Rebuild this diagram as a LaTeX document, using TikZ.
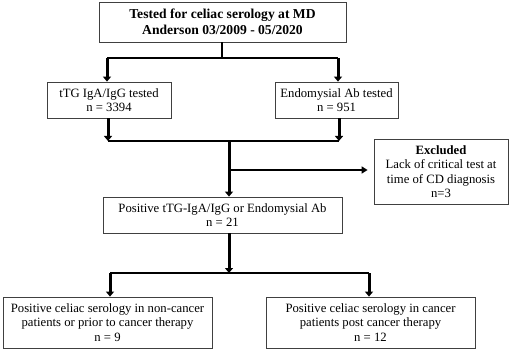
\documentclass[tikz,border=0pt]{standalone}
\usepackage{fontspec}
\setmainfont{Liberation Serif}
\usetikzlibrary{arrows.meta}
\begin{document}
\begin{tikzpicture}[x=1pt,y=-1pt,
  box/.style={draw=black!75, line width=0.8pt, align=center, inner sep=0pt,
    font=\fontsize{12.7}{14.5}\selectfont},
  thin/.style={line width=1.6pt},
  thick/.style={line width=3pt},
  tip/.style={-{Triangle[width=8pt,length=5pt]}},
]
\useasboundingbox (0,0) rectangle (513,352);
\node[box, minimum width=247pt, minimum height=40pt, font=\bfseries\fontsize{13.6}{16}\selectfont] (top) at (222.5,22)
  {Tested for celiac serology at MD\\Anderson 03/2009 - 05/2020};
\node[box, minimum width=124pt, minimum height=36pt] (ttg) at (109,100)
  {tTG IgA/IgG tested\\n = 3394};
\node[box, minimum width=123pt, minimum height=36pt] (endo) at (336.5,100)
  {Endomysial Ab tested\\n = 951};
\node[box, minimum width=134pt, minimum height=65pt] (excl) at (441,171.5)
  {\textbf{Excluded}\\Lack of critical test at\\time of CD diagnosis\\n=3};
\node[box, minimum width=239pt, minimum height=36pt] (pos) at (222.5,215)
  {Positive tTG-IgA/IgG or Endomysial Ab\\n = 21};
\node[box, minimum width=209pt, minimum height=51pt] (bl) at (107.5,322.5)
  {Positive celiac serology in non-cancer\\patients or prior to cancer therapy\\n = 9};
\node[box, minimum width=209pt, minimum height=51pt] (br) at (370.5,322.5)
  {Positive celiac serology in cancer\\patients post cancer therapy\\n = 12};
% split 1
\coordinate (s1) at (222,58);
\coordinate (s1l) at (107,58);
\coordinate (s1r) at (338,58);
\draw[thin] (top.south -| s1) -- (s1);
\draw[thin] (s1l) -- (s1r);
\draw[thick, tip] (s1l) -- (ttg.north -| s1l);
\draw[thick, tip] (s1r) -- (endo.north -| s1r);
% merge
\coordinate (m1l) at (108,141);
\coordinate (m1r) at (339,141);
\coordinate (m1) at (229,141);
\coordinate (ex) at (229,170);
\draw[thick, tip] (ttg.south -| m1l) -- (m1l);
\draw[thick, tip] (endo.south -| m1r) -- (m1r);
\draw[thin] (m1l) -- (m1r);
\draw[thick, tip] (m1) -- (pos.north -| m1);
\draw[thin, -{Triangle[width=7pt,length=6pt]}, shorten >=6pt] (ex) -- (excl.west |- ex);
% split 2
\coordinate (s2) at (229,273);
\coordinate (s2l) at (110,273);
\coordinate (s2r) at (369,273);
\draw[thick, tip] (pos.south -| s2) -- (s2);
\draw[thin] (s2l) -- (s2r);
\draw[thick, tip] (s2l) -- (bl.north -| s2l);
\draw[thick, tip] (s2r) -- (br.north -| s2r);
\end{tikzpicture}
\end{document}
